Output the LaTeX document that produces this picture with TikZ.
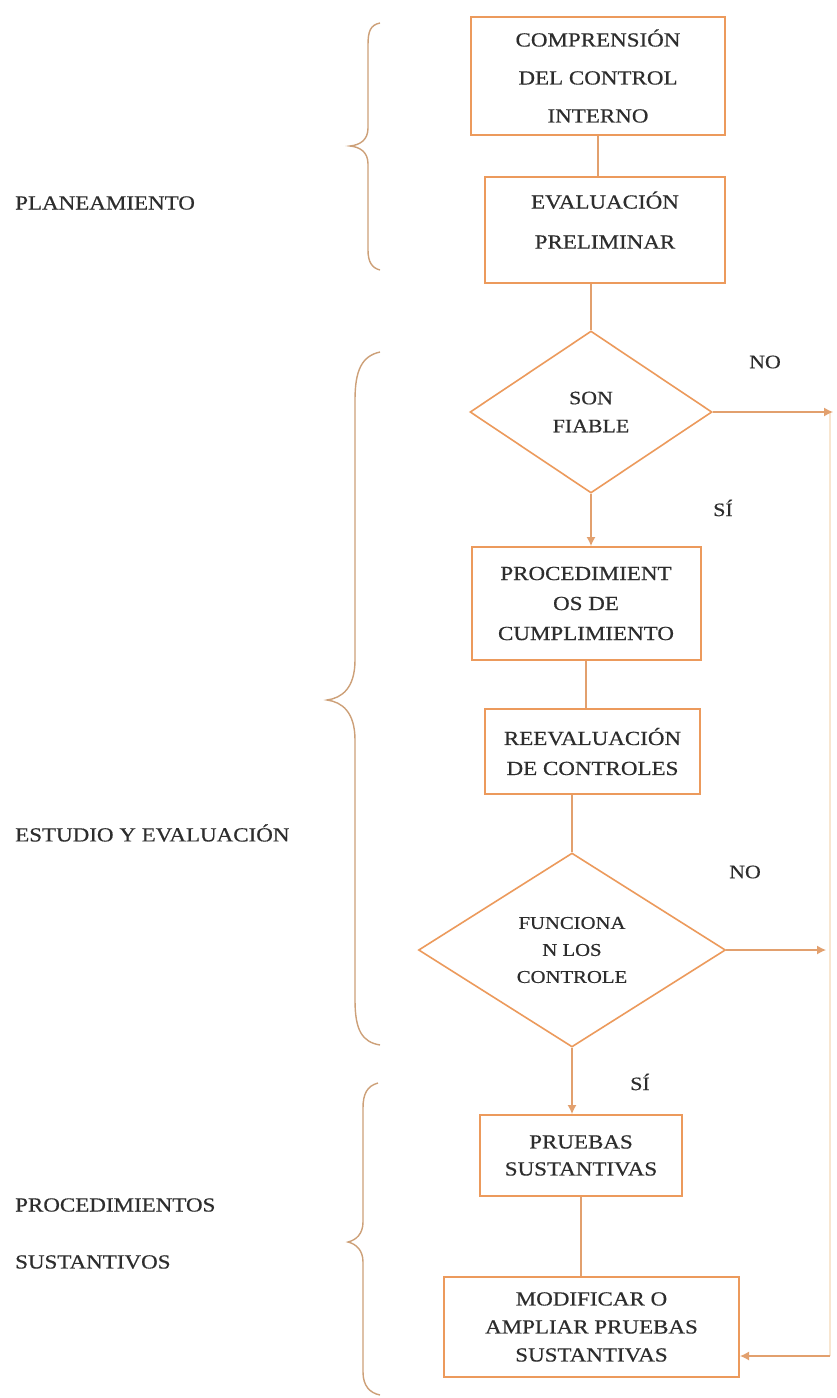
\documentclass[tikz,border=0pt]{standalone}
\usepackage{fontspec}
\setmainfont{Liberation Serif}[FakeStretch=1.15,FakeBold=0.5]
\usetikzlibrary{shapes.geometric,arrows.meta}
\definecolor{boxor}{RGB}{236,154,92}
\definecolor{lineor}{RGB}{226,160,110}
\definecolor{bracec}{RGB}{205,160,120}
\definecolor{paleor}{RGB}{248,230,208}
\definecolor{txt}{RGB}{45,45,45}
\tikzset{
  box/.style={draw=boxor, line width=2pt, rectangle, align=center, inner sep=0pt, text=txt,
    font=\fontsize{20}{30}\selectfont},
  dia/.style={draw=boxor, line width=1.6pt, shape=diamond, align=center, inner sep=0pt, text=txt},
  conn/.style={draw=lineor, line width=1.3pt},
  arr/.style={conn, -{Latex[length=9pt,width=9pt]}},
  brace/.style={draw=bracec, line width=1.4pt},
  lab/.style={anchor=west, text=txt, inner sep=0pt, font=\fontsize{20}{24}\selectfont},
  yn/.style={text=txt, inner sep=0pt, font=\fontsize{19}{24}\selectfont}
}
\begin{document}
\begin{tikzpicture}[x=1pt,y=-1pt]
\useasboundingbox (0,0) rectangle (836,1398);
\fill[white] (0,0) rectangle (836,1398);

% boxes
\node[box, minimum width=254pt, minimum height=118pt, font=\fontsize{20}{38}\selectfont] (b1) at (598,76) {COMPRENSIÓN\\DEL CONTROL\\INTERNO};
\node[box, minimum width=240pt, minimum height=106pt, font=\fontsize{20}{40}\selectfont] (b2) at (605,230) {EVALUACIÓN\\PRELIMINAR\\[-20pt]\mbox{}};
\node[dia, minimum width=242pt, minimum height=162pt, font=\fontsize{19}{28}\selectfont] (d1) at (591,412) {SON\\FIABLE};
\node[box, minimum width=229pt, minimum height=113pt] (b3) at (586,603.5) {PROCEDIMIENT\\OS DE\\CUMPLIMIENTO};
\node[box, minimum width=215pt, minimum height=85pt] (b4) at (592.5,751.5) {REEVALUACIÓN\\DE CONTROLES};
\node[dia, minimum width=307pt, minimum height=194pt, font=\fontsize{18}{27}\selectfont] (d2) at (572,950) {FUNCIONA\\N LOS\\CONTROLE};
\node[box, minimum width=202pt, minimum height=81pt, font=\fontsize{20}{27}\selectfont] (b5) at (581,1155.5) {PRUEBAS\\SUSTANTIVAS};
\node[box, minimum width=295pt, minimum height=100pt, font=\fontsize{20}{28}\selectfont] (b6) at (591.5,1327) {MODIFICAR O\\AMPLIAR PRUEBAS\\SUSTANTIVAS};

% right return line
\coordinate (r1) at (833,412);
\coordinate (r2) at (826,950);
\coordinate (r3) at (830,1356);
\coordinate (rt) at (830,412);
\draw[draw=paleor, line width=2pt] (rt) -- (r3);

% connectors
\draw[conn] (b1.south) -- (b1.south |- b2.north);
\draw[conn] (b2.south -| d1.north) -- (d1.north);
\draw[arr] (d1.south) -- (d1.south |- b3.north);
\draw[conn] (b3.south) -- (b3.south |- b4.north);
\draw[conn] (b4.south -| d2.north) -- (d2.north);
\draw[arr] (d2.south) -- (d2.south |- b5.north);
\draw[conn] (b5.south) -- (b5.south |- b6.north);
\draw[arr] (d1.east) -- (r1);
\draw[arr] (d2.east) -- (r2);
\draw[arr] (r3) -- (b6.east |- r3);

% yes/no labels
\node[yn] (no1) at (765,362) {NO};
\node[yn] (si1) at (723,508) {SÍ};
\node[yn] (no2) at (745,872) {NO};
\node[yn] (si2) at (640,1082) {SÍ};

% braces
\draw[brace] (380,23) .. controls (370,25) and (368,32) .. (368,45)
  -- (368,128) .. controls (368,140) and (360,145) .. (350,146)
  .. controls (360,147) and (368,152) .. (368,164)
  -- (368,250) .. controls (368,262) and (372,268) .. (380,270);
\draw[brace] (380,352) .. controls (362,356) and (355,370) .. (355,400)
  -- (355,660) .. controls (355,688) and (342,698) .. (327,700)
  .. controls (342,702) and (355,712) .. (355,740)
  -- (355,1000) .. controls (355,1030) and (362,1042) .. (380,1045);
\draw[brace] (378,1083) .. controls (367,1086) and (363,1094) .. (363,1108)
  -- (363,1222) .. controls (363,1234) and (356,1240) .. (348,1242)
  .. controls (356,1244) and (363,1250) .. (363,1262)
  -- (363,1372) .. controls (363,1386) and (370,1393) .. (380,1395);

% left labels
\node[lab] (l1) at (15,203) {PLANEAMIENTO};
\node[lab] (l2) at (15,833) {ESTUDIO Y EVALUACIÓN};
\node[lab] (l3) at (15,1205) {PROCEDIMIENTOS};
\node[lab] (l4) at (15,1262) {SUSTANTIVOS};
\end{tikzpicture}
\end{document}
